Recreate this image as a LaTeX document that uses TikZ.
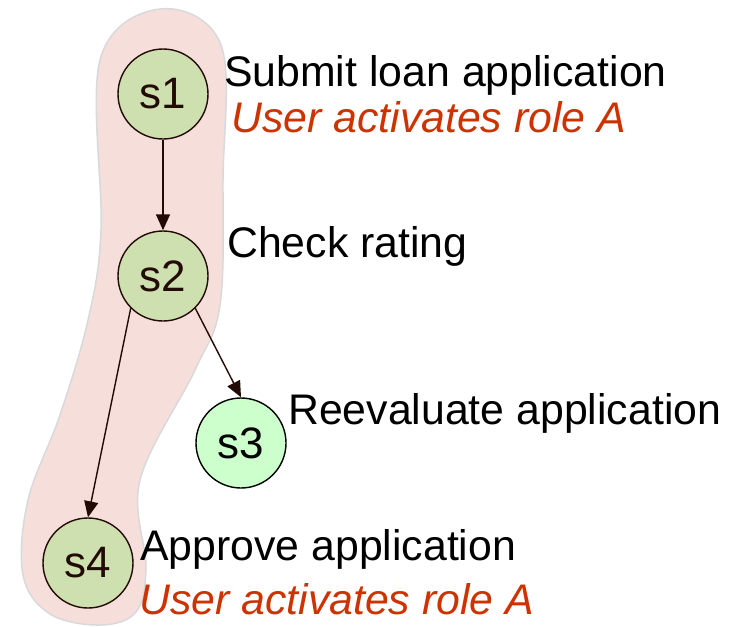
\documentclass[tikz,border=0pt]{standalone}
\usepackage{fontspec}
\setmainfont{Liberation Sans}
\usetikzlibrary{arrows.meta}

\definecolor{statefill}{HTML}{CEE0B0}
\definecolor{altfill}{HTML}{CCFFCC}
\definecolor{blobfill}{HTML}{F6DFDA}
\definecolor{blobline}{HTML}{D9D9DB}
\definecolor{roletext}{HTML}{CC3300}
\definecolor{edgecol}{HTML}{220A05}

\tikzset{
  state/.style={circle, draw=edgecol, line width=1.4pt, fill=statefill, text=edgecol,
    minimum size=90pt, inner sep=0pt, font=\fontsize{44}{44}\selectfont},
  task/.style={anchor=base west, inner sep=0pt, font=\fontsize{42.8}{43}\selectfont},
  role/.style={task, text=roletext, font=\fontsize{42.8}{43}\selectfont\itshape},
  flow/.style={draw=edgecol, line width=1.4pt, -{Triangle[length=16pt,width=14pt]}}
}

\begin{document}
\begin{tikzpicture}[x=1pt,y=-1pt]
  \useasboundingbox (0,0) rectangle (732,627);

  % path taken by role A
  \draw [fill=blobfill, draw=blobline, line width=1.5pt]
    plot [smooth cycle, tension=0.6] coordinates {(160,9) (221,45) (223,180) (220,305) (195,370)
      (140,480) (146,567) (136,612) (100,625) (50,614) (23,575) (28,500) (60,415)
      (88,320) (101,230) (100,60)};

  \node [state] (s1) at (163,94) {s1};
  \node [state] (s2) at (163,276) {s2};
  \node [state, fill=altfill, draw=black, text=black] (s3) at (241,443) {s3};
  \node [state] (s4) at (88,563) {s4};

  \draw [flow] (s1.south) -- (s2.north);
  \draw [flow] (s2.south west) -- (s4.north);
  \draw [flow] (s2.south east) -- (s3.north);

  \node [task] (t1) at (224,86) {Submit loan application};
  \node [role] (r1) at (231,132) {User activates role A};
  \node [task] (t2) at (227,257) {Check rating};
  \node [task] (t3) at (288,424) {Reevaluate application};
  \node [task] (t4) at (140,560) {Approve application};
  \node [role] (r4) at (139,614) {User activates role A};

\end{tikzpicture}
\end{document}
